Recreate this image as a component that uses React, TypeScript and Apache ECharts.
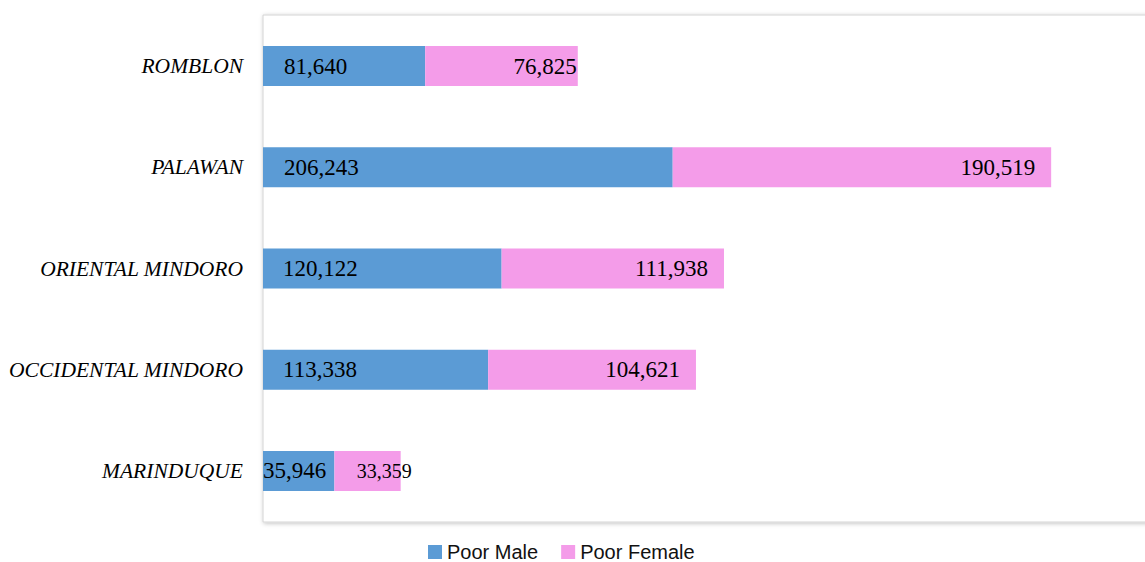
import React, { useEffect, useRef } from "react";
import * as echarts from "echarts";

const categories = ["ROMBLON", "PALAWAN", "ORIENTAL MINDORO", "OCCIDENTAL MINDORO", "MARINDUQUE"];
const poorMale = [81640, 206243, 120122, 113338, 35946];
const poorFemale = [76825, 190519, 111938, 104621, 33359];
const seriesNames = ["Poor Male", "Poor Female"];

// label placement tweaks (style only)
const maleLabelOffsetX = [21, 21, 20, 20, 0];
const femaleLabelOffsetX = [-1, -16, -16, -16, 11];
const femaleLabelSize = [23, 23, 23, 23, 20];

const fmt = (v: number) => v.toLocaleString("en-US");

export default function App() {
  const ref = useRef<HTMLDivElement>(null);
  useEffect(() => {
    document.body.style.margin = "0";
    const chart = echarts.init(ref.current!, null, { renderer: "svg" });
    const labelBase = {
      show: true,
      fontFamily: "Liberation Serif",
      fontSize: 23,
      color: "#000",
      formatter: (p: any) => fmt(p.value),
    };
    chart.setOption({
      animation: false,
      graphic: [
        {
          type: "rect",
          z: 0,
          silent: true,
          shape: { x: 263, y: 15, width: 900, height: 507 },
          style: {
            fill: "#fff",
            stroke: "#d4d4d4",
            lineWidth: 1,
            shadowColor: "rgba(0,0,0,0.25)",
            shadowBlur: 4,
            shadowOffsetX: 1,
            shadowOffsetY: 1,
          },
        },
      ],
      grid: {
        left: 263,
        top: 15.5,
        right: 0,
        height: 506,
      },
      legend: {
        left: 423,
        top: 537,
        icon: "rect",
        itemWidth: 14,
        itemHeight: 14,
        itemGap: 23,
        textStyle: { fontFamily: "Liberation Sans", fontSize: 20, color: "#111" },
        data: seriesNames,
      },
      xAxis: {
        type: "value",
        min: 0,
        max: 444000,
        show: false,
        splitLine: { show: false },
      },
      yAxis: {
        type: "category",
        data: categories,
        inverse: true,
        axisLine: { show: false },
        axisTick: { show: false },
        axisLabel: {
          fontFamily: "Liberation Serif",
          fontStyle: "italic",
          fontSize: 21.5,
          color: "#000",
          margin: 20,
        },
      },
      series: [
        {
          name: seriesNames[0],
          type: "bar",
          stack: "total",
          barWidth: 40,
          z: 3,
          itemStyle: { color: "#5b9bd5" },
          data: poorMale.map((v, i) => ({
            value: v,
            label: { ...labelBase, position: "insideLeft", distance: 0, offset: [maleLabelOffsetX[i], 0] },
          })),
        },
        {
          name: seriesNames[1],
          type: "bar",
          stack: "total",
          barWidth: 40,
          z: 3,
          itemStyle: { color: "#f49ce9" },
          data: poorFemale.map((v, i) => ({
            value: v,
            label: {
              ...labelBase,
              fontSize: femaleLabelSize[i],
              position: "insideRight",
              distance: 0,
              offset: [femaleLabelOffsetX[i], 0],
            },
          })),
        },
      ],
    });
    return () => chart.dispose();
  }, []);
  return <div ref={ref} style={{ width: 1145, height: 562 }} />;
}
